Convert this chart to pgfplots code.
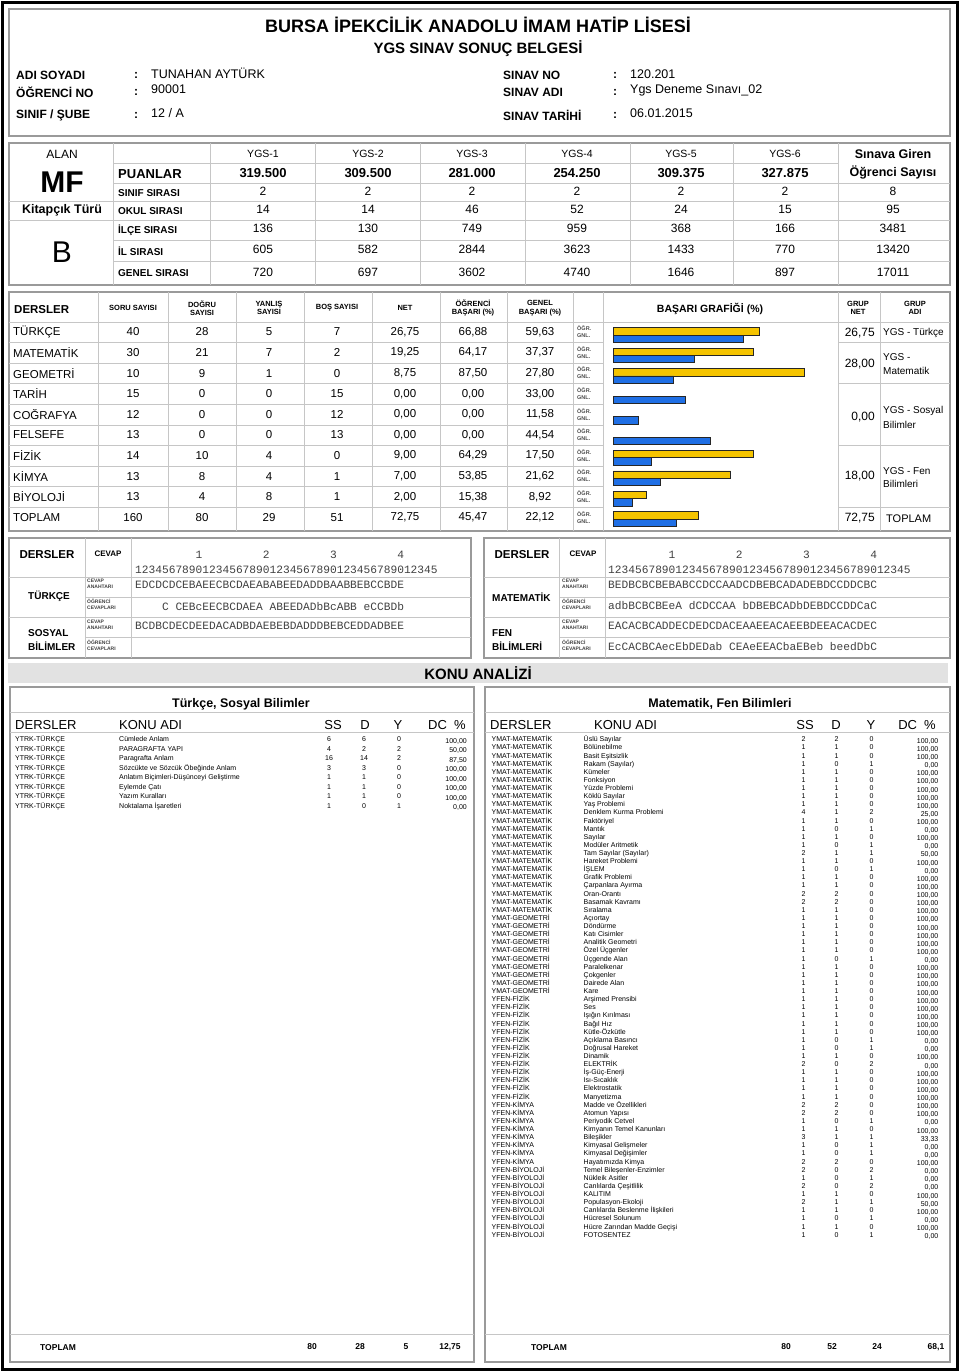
\documentclass[border=0pt]{standalone}
\usepackage{fontspec}
\setmainfont{Liberation Sans}
\newfontfamily\monofont{Liberation Mono}
\usepackage{pgfplots}
\pgfplotsset{compat=1.18}
\definecolor{ogrbar}{HTML}{F5C400}
\definecolor{gnlbar}{HTML}{1F6FE5}
\definecolor{frame}{HTML}{9A9A9A}
\definecolor{rule}{HTML}{C6C6C6}
\definecolor{band}{HTML}{E2E2E2}
\newcommand\fs[1]{\fontsize{#1}{#1}\selectfont}
% rows of the DERSLER table: index, name, soru, dogru, yanlis, bos, net, ogr, gnl
\newcommand\drow[9]{%
  \pgfmathsetmacro\yy{332+20.6*#1}%
  \pgfmathsetmacro\ya{\yy-3.8}\pgfmathsetmacro\yb{\yy+3.8}%
  \node[anchor=west,font=\fs{11.5}] at (13,\yy) {#2};
  \node[font=\fs{11.5}] at (133,\yy) {#3};
  \node[font=\fs{11.5}] at (202,\yy) {#4};
  \node[font=\fs{11.5}] at (269,\yy) {#5};
  \node[font=\fs{11.5}] at (337,\yy) {#6};
  \node[font=\fs{11.5}] at (405,\yy) {#7};
  \node[font=\fs{11.5}] at (473,\yy) {#8};
  \node[font=\fs{11.5}] at (540,\yy) {#9};
  \node[anchor=west,font=\bfseries\fs{5.5},text=black!70] at (577,\ya) {ÖĞR.};
  \node[anchor=west,font=\bfseries\fs{5.5},text=black!70] at (577,\yb) {GNL.};
}
% topic rows, left panel
\newcommand\lrow[6]{%
  \pgfmathsetmacro\yy{741.8+9.5*#1}\pgfmathsetmacro\yc{\yy+1.5}%
  \node[anchor=base west,font=\fs{7}] at (15,\yy) {YTRK-TÜRKÇE};
  \node[anchor=base west,font=\fs{7}] at (119,\yy) {#2};
  \node[anchor=base,font=\fs{7}] at (329,\yy) {#3};
  \node[anchor=base,font=\fs{7}] at (364,\yy) {#4};
  \node[anchor=base,font=\fs{7}] at (399,\yy) {#5};
  \node[anchor=base east,font=\fs{7}] at (467,\yc) {#6};
}
% topic rows, right panel
\newcommand\rrow[7]{%
  \pgfmathsetmacro\yy{741.8+8.12*#1}\pgfmathsetmacro\yc{\yy+1.5}%
  \node[anchor=base west,font=\fs{7}] at (491.5,\yy) {#2};
  \node[anchor=base west,font=\fs{7}] at (583.5,\yy) {#3};
  \node[anchor=base,font=\fs{7}] at (803.5,\yy) {#4};
  \node[anchor=base,font=\fs{7}] at (836.5,\yy) {#5};
  \node[anchor=base,font=\fs{7}] at (871.5,\yy) {#6};
  \node[anchor=base east,font=\fs{7}] at (938.5,\yc) {#7};
}
\begin{document}
\begin{tikzpicture}
\begin{scope}[x=1pt,y=-1pt,every node/.style={inner sep=0pt}]
\path (0,0) rectangle (960,1372);
\draw[line width=2.5pt] (2.5,2.5) rectangle (957.5,1369.5);

% ---- header
\draw[frame,line width=1.5pt] (9,9) rectangle (950,136);
\node[font=\bfseries\fs{18}] at (478,25) {BURSA İPEKCİLİK ANADOLU İMAM HATİP LİSESİ};
\node[font=\bfseries\fs{15}] at (478,49) {YGS SINAV SONUÇ BELGESİ};
\node[anchor=west,font=\bfseries\fs{12}] at (16,75) {ADI SOYADI};
\node[anchor=west,font=\bfseries\fs{12}] at (16,92) {ÖĞRENCİ NO};
\node[anchor=west,font=\bfseries\fs{12}] at (16,115) {SINIF / ŞUBE};
\node[anchor=west,font=\bfseries\fs{12}] at (503,75) {SINAV NO};
\node[anchor=west,font=\bfseries\fs{12}] at (503,92) {SINAV ADI};
\node[anchor=west,font=\bfseries\fs{12}] at (503,115) {SINAV TARİHİ};
\foreach \yl in {75,92,115}
  {\node[font=\bfseries\fs{12}] at (136,\yl) {:};
   \node[font=\bfseries\fs{12}] at (615,\yl) {:};}
\node[anchor=west,font=\fs{12.5}] at (151,73) {TUNAHAN AYTÜRK};
\node[anchor=west,font=\fs{12.5}] at (151,89) {90001};
\node[anchor=west,font=\fs{12.5}] at (151,113) {12 / A};
\node[anchor=west,font=\fs{12.5}] at (630,74) {120.201};
\node[anchor=west,font=\fs{12.5}] at (630,90) {Ygs Deneme Sınavı\_02};
\node[anchor=west,font=\fs{12.5}] at (630,113) {06.01.2015};

% ---- ALAN block
\draw[frame,line width=1.5pt] (9,143) rectangle (950,285);
\begin{scope}[rule,line width=0.8pt]
\foreach \xl in {113,210,315,420,525,630,733,838} \draw (\xl,143) -- (\xl,285);
\draw (113,163) -- (838,163);
\draw (113,183) -- (950,183);
\draw (9,201) -- (950,201);
\draw (9,220) -- (950,220);
\draw (113,240) -- (950,240);
\draw (113,261) -- (950,261);
\end{scope}
\node[font=\fs{12}] at (62,154) {ALAN};
\foreach \xc/\lab in {263/YGS-1,368/YGS-2,472/YGS-3,577/YGS-4,681/YGS-5,785/YGS-6}
  \node[font=\fs{10.5}] at (\xc,154) {\lab};
\node[font=\bfseries\fs{12.5}] at (893,154) {Sınava Giren};
\node[font=\bfseries\fs{12.5}] at (893,172) {Öğrenci Sayısı};
\node[font=\bfseries\fs{30}] at (62,182) {MF};
\node[font=\bfseries\fs{12.5}] at (62,210) {Kitapçık Türü};
\node[font=\fs{30}] at (62,252) {B};
\node[anchor=west,font=\bfseries\fs{13}] at (118,174) {PUANLAR};
\foreach \xc/\v in {263/319.500,368/309.500,472/281.000,577/254.250,681/309.375,785/327.875}
  \node[font=\bfseries\fs{13}] at (\xc,173) {\v};
\node[anchor=west,font=\bfseries\fs{10}] at (118,193) {SINIF SIRASI};
\node[anchor=west,font=\bfseries\fs{10}] at (118,211) {OKUL SIRASI};
\node[anchor=west,font=\bfseries\fs{10}] at (118,230) {İLÇE SIRASI};
\node[anchor=west,font=\bfseries\fs{10}] at (118,251) {İL SIRASI};
\node[anchor=west,font=\bfseries\fs{10}] at (118,273) {GENEL SIRASI};
\foreach \xc/\a/\b/\c/\d/\e in {263/2/14/136/605/720,368/2/14/130/582/697,472/2/46/749/2844/3602,
    577/2/52/959/3623/4740,681/2/24/368/1433/1646,785/2/15/166/770/897,893/8/95/3481/13420/17011}
  {\node[font=\fs{12}] at (\xc,191) {\a};
   \node[font=\fs{12}] at (\xc,209) {\b};
   \node[font=\fs{12}] at (\xc,228) {\c};
   \node[font=\fs{12}] at (\xc,249) {\d};
   \node[font=\fs{12}] at (\xc,272) {\e};}

% ---- DERSLER table
\draw[frame,line width=1.5pt] (9,292) rectangle (950,531);
\begin{scope}[rule,line width=0.8pt]
\foreach \xl in {98,168,236,304,372,440,507,573,603,838,880} \draw (\xl,292) -- (\xl,531);
\draw (9,322) -- (950,322);
\foreach \k in {1,...,9} \draw (9,322+20.6*\k) -- (603,322+20.6*\k);
\foreach \k in {1,3,6,9} \draw (838,322+20.6*\k) -- (950,322+20.6*\k);
\end{scope}
\node[anchor=west,font=\bfseries\fs{11.5}] at (14,310) {DERSLER};
\node[font=\bfseries\fs{7.5}] at (133,308) {SORU SAYISI};
\node[font=\bfseries\fs{7.5},align=center] at (202,308) {DOĞRU\\[1pt]SAYISI};
\node[font=\bfseries\fs{7.5},align=center] at (269,308) {YANLIŞ\\[1pt]SAYISI};
\node[font=\bfseries\fs{7.5}] at (337,308) {BOŞ SAYISI};
\node[font=\bfseries\fs{7.5}] at (405,308) {NET};
\node[font=\bfseries\fs{7.5},align=center] at (473,308) {ÖĞRENCİ\\[1pt]BAŞARI (\%)};
\node[font=\bfseries\fs{7.5},align=center] at (540,308) {GENEL\\[1pt]BAŞARI (\%)};
\node[font=\bfseries\fs{10.5}] at (710,309) {BAŞARI GRAFİĞİ (\%)};
\node[font=\bfseries\fs{7.5},align=center] at (858,308) {GRUP\\[1pt]NET};
\node[font=\bfseries\fs{7.5},align=center] at (915,308) {GRUP\\[1pt]ADI};
\drow{0}{TÜRKÇE}{40}{28}{5}{7}{26,75}{66,88}{59,63}
\drow{1}{MATEMATİK}{30}{21}{7}{2}{19,25}{64,17}{37,37}
\drow{2}{GEOMETRİ}{10}{9}{1}{0}{8,75}{87,50}{27,80}
\drow{3}{TARİH}{15}{0}{0}{15}{0,00}{0,00}{33,00}
\drow{4}{COĞRAFYA}{12}{0}{0}{12}{0,00}{0,00}{11,58}
\drow{5}{FELSEFE}{13}{0}{0}{13}{0,00}{0,00}{44,54}
\drow{6}{FİZİK}{14}{10}{4}{0}{9,00}{64,29}{17,50}
\drow{7}{KİMYA}{13}{8}{4}{1}{7,00}{53,85}{21,62}
\drow{8}{BİYOLOJİ}{13}{4}{8}{1}{2,00}{15,38}{8,92}
\drow{9}{TOPLAM}{160}{80}{29}{51}{72,75}{45,47}{22,12}
\node[anchor=east,font=\fs{12}] at (875,333) {26,75};
\node[anchor=east,font=\fs{12}] at (875,364) {28,00};
\node[anchor=east,font=\fs{12}] at (875,417) {0,00};
\node[anchor=east,font=\fs{12}] at (875,476) {18,00};
\node[anchor=east,font=\fs{12}] at (875,518) {72,75};
\node[anchor=west,font=\fs{10}] at (883,333) {YGS - Türkçe};
\node[anchor=west,font=\fs{10}] at (883,357.5) {YGS -};
\node[anchor=west,font=\fs{10}] at (883,371) {Matematik};
\node[anchor=west,font=\fs{10}] at (883,410.5) {YGS - Sosyal};
\node[anchor=west,font=\fs{10}] at (883,425) {Bilimler};
\node[anchor=west,font=\fs{10}] at (883,471) {YGS - Fen};
\node[anchor=west,font=\fs{10}] at (883,484) {Bilimleri};
\node[anchor=west,font=\fs{11}] at (886,518.5) {TOPLAM};

% ---- answer blocks
\draw[frame,line width=1.5pt] (9,538) rectangle (471,658);
\draw[frame,line width=1.5pt] (484,538) rectangle (950,658);
\begin{scope}[rule,line width=0.8pt]
\draw (85,538) -- (85,658) (131,538) -- (131,658);
\draw (9,577) -- (471,577) (85,597) -- (471,597) (9,617) -- (471,617) (85,637.5) -- (471,637.5);
\draw (559,538) -- (559,658) (605,538) -- (605,658);
\draw (484,577) -- (950,577) (559,597) -- (950,597) (484,617) -- (950,617) (559,637.5) -- (950,637.5);
\end{scope}
\foreach \xo/\xd/\xc in {0/47/108,475/522/583}{
  \node[font=\bfseries\fs{11.5}] at (\xd,554.5) {DERSLER};
  \node[font=\bfseries\fs{8}] at (\xc,554) {CEVAP};
  \node[anchor=west,font=\bfseries\fs{5},align=left,text=black!75] at (87+\xo,583.5) {CEVAP\\[0.6pt]ANAHTARI};
  \node[anchor=west,font=\bfseries\fs{5},align=left,text=black!75] at (87+\xo,604.5) {ÖĞRENCİ\\[0.6pt]CEVAPLARI};
  \node[anchor=west,font=\bfseries\fs{5},align=left,text=black!75] at (87+\xo,624.5) {CEVAP\\[0.6pt]ANAHTARI};
  \node[anchor=west,font=\bfseries\fs{5},align=left,text=black!75] at (87+\xo,645.5) {ÖĞRENCİ\\[0.6pt]CEVAPLARI};
}
\begin{scope}[every node/.append style={anchor=west,font=\monofont\fs{11.2},text=black!75}]
\node at (135,554.5) {~~~~~~~~~1~~~~~~~~~2~~~~~~~~~3~~~~~~~~~4};
\node at (135,569.5) {123456789012345678901234567890123456789012345};
\node at (135,585) {EDCDCDCEBAEECBCDAEABABEEDADDBAABBEBCCBDE};
\node at (135,606) {~~~~C~CEBcEECBCDAEA~ABEEDADbBcABB~eCCBDb};
\node at (135,626) {BCDBCDECDEEDACADBDAEBEBDADDDBEBCEDDADBEE};
\node at (608,554.5) {~~~~~~~~~1~~~~~~~~~2~~~~~~~~~3~~~~~~~~~4};
\node at (608,569.5) {123456789012345678901234567890123456789012345};
\node at (608,585) {BEDBCBCBEBABCCDCCAADCDBEBCADADEBDCCDDCBC};
\node at (608,606) {adbBCBCBEeA~dCDCCAA~bDBEBCADbDEBDCCDDCaC};
\node at (608,626) {EACACBCADDECDEDCDACEAAEEACAEEBDEEACACDEC};
\node at (608,647) {EcCACBCAecEbDEDab~CEAeEEACbaEBeb~beedDbC};
\end{scope}
\node[anchor=west,font=\bfseries\fs{10}] at (28,596) {TÜRKÇE};
\node[anchor=west,font=\bfseries\fs{10}] at (28,633) {SOSYAL};
\node[anchor=west,font=\bfseries\fs{10}] at (28,646) {BİLİMLER};
\node[anchor=west,font=\bfseries\fs{10}] at (492,597) {MATEMATİK};
\node[anchor=west,font=\bfseries\fs{10}] at (492,633) {FEN};
\node[anchor=west,font=\bfseries\fs{10}] at (492,646) {BİLİMLERİ};

% ---- KONU ANALIZI
\fill[band] (8,663) rectangle (948,683);
\node[font=\bfseries\fs{15}] at (478,673.5) {KONU ANALİZİ};
\draw[frame,line width=1.5pt] (10,687) rectangle (474,1362);
\draw[frame,line width=1.5pt] (485,687) rectangle (950,1362);
\begin{scope}[rule,line width=0.8pt]
\draw (10,712) -- (474,712) (10,732) -- (474,732) (10,1334) -- (474,1334);
\draw (485,712) -- (950,712) (485,732) -- (950,732) (485,1334) -- (950,1334);
\end{scope}
\node[font=\bfseries\fs{12.5}] at (241,704) {Türkçe, Sosyal Bilimler};
\node[font=\bfseries\fs{12.5}] at (720,704) {Matematik, Fen Bilimleri};
\foreach \xo in {0,475}{
  \node[anchor=west,font=\fs{13}] at (15+\xo,725) {DERSLER};
  \node[anchor=west,font=\fs{13}] at (119+\xo,725) {KONU ADI};
}
\node[font=\fs{13}] at (333,725) {SS};
\node[font=\fs{13}] at (365,725) {D};
\node[font=\fs{13}] at (398,725) {Y};
\node[anchor=east,font=\fs{13}] at (466,725) {DC~~\%};
\node[font=\fs{13}] at (805,725) {SS};
\node[font=\fs{13}] at (836,725) {D};
\node[font=\fs{13}] at (871,725) {Y};
\node[anchor=east,font=\fs{13}] at (936,725) {DC~~\%};

\lrow{0}{Cümlede Anlam}{6}{6}{0}{100,00}
\lrow{1}{PARAGRAFTA YAPI}{4}{2}{2}{50,00}
\lrow{2}{Paragrafta Anlam}{16}{14}{2}{87,50}
\lrow{3}{Sözcükte ve Sözcük Öbeğinde Anlam}{3}{3}{0}{100,00}
\lrow{4}{Anlatım Biçimleri-Düşünceyi Geliştirme}{1}{1}{0}{100,00}
\lrow{5}{Eylemde Çatı}{1}{1}{0}{100,00}
\lrow{6}{Yazım Kuralları}{1}{1}{0}{100,00}
\lrow{7}{Noktalama İşaretleri}{1}{0}{1}{0,00}

\rrow{0}{YMAT-MATEMATİK}{Üslü Sayılar}{2}{2}{0}{100,00}
\rrow{1}{YMAT-MATEMATİK}{Bölünebilme}{1}{1}{0}{100,00}
\rrow{2}{YMAT-MATEMATİK}{Basit Eşitsizlik}{1}{1}{0}{100,00}
\rrow{3}{YMAT-MATEMATİK}{Rakam (Sayılar)}{1}{0}{1}{0,00}
\rrow{4}{YMAT-MATEMATİK}{Kümeler}{1}{1}{0}{100,00}
\rrow{5}{YMAT-MATEMATİK}{Fonksiyon}{1}{1}{0}{100,00}
\rrow{6}{YMAT-MATEMATİK}{Yüzde Problemi}{1}{1}{0}{100,00}
\rrow{7}{YMAT-MATEMATİK}{Köklü Sayılar}{1}{1}{0}{100,00}
\rrow{8}{YMAT-MATEMATİK}{Yaş Problemi}{1}{1}{0}{100,00}
\rrow{9}{YMAT-MATEMATİK}{Denklem Kurma Problemi}{4}{1}{2}{25,00}
\rrow{10}{YMAT-MATEMATİK}{Faktöriyel}{1}{1}{0}{100,00}
\rrow{11}{YMAT-MATEMATİK}{Mantık}{1}{0}{1}{0,00}
\rrow{12}{YMAT-MATEMATİK}{Sayılar}{1}{1}{0}{100,00}
\rrow{13}{YMAT-MATEMATİK}{Modüler Aritmetik}{1}{0}{1}{0,00}
\rrow{14}{YMAT-MATEMATİK}{Tam Sayılar (Sayılar)}{2}{1}{1}{50,00}
\rrow{15}{YMAT-MATEMATİK}{Hareket Problemi}{1}{1}{0}{100,00}
\rrow{16}{YMAT-MATEMATİK}{İŞLEM}{1}{0}{1}{0,00}
\rrow{17}{YMAT-MATEMATİK}{Grafik Problemi}{1}{1}{0}{100,00}
\rrow{18}{YMAT-MATEMATİK}{Çarpanlara Ayırma}{1}{1}{0}{100,00}
\rrow{19}{YMAT-MATEMATİK}{Oran-Orantı}{2}{2}{0}{100,00}
\rrow{20}{YMAT-MATEMATİK}{Basamak Kavramı}{2}{2}{0}{100,00}
\rrow{21}{YMAT-MATEMATİK}{Sıralama}{1}{1}{0}{100,00}
\rrow{22}{YMAT-GEOMETRİ}{Açıortay}{1}{1}{0}{100,00}
\rrow{23}{YMAT-GEOMETRİ}{Döndürme}{1}{1}{0}{100,00}
\rrow{24}{YMAT-GEOMETRİ}{Katı Cisimler}{1}{1}{0}{100,00}
\rrow{25}{YMAT-GEOMETRİ}{Analitik Geometri}{1}{1}{0}{100,00}
\rrow{26}{YMAT-GEOMETRİ}{Özel Üçgenler}{1}{1}{0}{100,00}
\rrow{27}{YMAT-GEOMETRİ}{Üçgende Alan}{1}{0}{1}{0,00}
\rrow{28}{YMAT-GEOMETRİ}{Paralelkenar}{1}{1}{0}{100,00}
\rrow{29}{YMAT-GEOMETRİ}{Çokgenler}{1}{1}{0}{100,00}
\rrow{30}{YMAT-GEOMETRİ}{Dairede Alan}{1}{1}{0}{100,00}
\rrow{31}{YMAT-GEOMETRİ}{Kare}{1}{1}{0}{100,00}
\rrow{32}{YFEN-FİZİK}{Arşimed Prensibi}{1}{1}{0}{100,00}
\rrow{33}{YFEN-FİZİK}{Ses}{1}{1}{0}{100,00}
\rrow{34}{YFEN-FİZİK}{Işığın Kırılması}{1}{1}{0}{100,00}
\rrow{35}{YFEN-FİZİK}{Bağıl Hız}{1}{1}{0}{100,00}
\rrow{36}{YFEN-FİZİK}{Kütle-Özkütle}{1}{1}{0}{100,00}
\rrow{37}{YFEN-FİZİK}{Açıklama Basıncı}{1}{0}{1}{0,00}
\rrow{38}{YFEN-FİZİK}{Doğrusal Hareket}{1}{0}{1}{0,00}
\rrow{39}{YFEN-FİZİK}{Dinamik}{1}{1}{0}{100,00}
\rrow{40}{YFEN-FİZİK}{ELEKTRİK}{2}{0}{2}{0,00}
\rrow{41}{YFEN-FİZİK}{İş-Güç-Enerji}{1}{1}{0}{100,00}
\rrow{42}{YFEN-FİZİK}{Isı-Sıcaklık}{1}{1}{0}{100,00}
\rrow{43}{YFEN-FİZİK}{Elektrostatik}{1}{1}{0}{100,00}
\rrow{44}{YFEN-FİZİK}{Manyetizma}{1}{1}{0}{100,00}
\rrow{45}{YFEN-KİMYA}{Madde ve Özellikleri}{2}{2}{0}{100,00}
\rrow{46}{YFEN-KİMYA}{Atomun Yapısı}{2}{2}{0}{100,00}
\rrow{47}{YFEN-KİMYA}{Periyodik Cetvel}{1}{0}{1}{0,00}
\rrow{48}{YFEN-KİMYA}{Kimyanın Temel Kanunları}{1}{1}{0}{100,00}
\rrow{49}{YFEN-KİMYA}{Bileşikler}{3}{1}{1}{33,33}
\rrow{50}{YFEN-KİMYA}{Kimyasal Gelişmeler}{1}{0}{1}{0,00}
\rrow{51}{YFEN-KİMYA}{Kimyasal Değişimler}{1}{0}{1}{0,00}
\rrow{52}{YFEN-KİMYA}{Hayatımızda Kimya}{2}{2}{0}{100,00}
\rrow{53}{YFEN-BİYOLOJİ}{Temel Bileşenler-Enzimler}{2}{0}{2}{0,00}
\rrow{54}{YFEN-BİYOLOJİ}{Nükleik Asitler}{1}{0}{1}{0,00}
\rrow{55}{YFEN-BİYOLOJİ}{Canlılarda Çeşitlilik}{2}{0}{2}{0,00}
\rrow{56}{YFEN-BİYOLOJİ}{KALITIM}{1}{1}{0}{100,00}
\rrow{57}{YFEN-BİYOLOJİ}{Populasyon-Ekoloji}{2}{1}{1}{50,00}
\rrow{58}{YFEN-BİYOLOJİ}{Canlılarda Beslenme İlişkileri}{1}{1}{0}{100,00}
\rrow{59}{YFEN-BİYOLOJİ}{Hücresel Solunum}{1}{0}{1}{0,00}
\rrow{60}{YFEN-BİYOLOJİ}{Hücre Zarından Madde Geçişi}{1}{1}{0}{100,00}
\rrow{61}{YFEN-BİYOLOJİ}{FOTOSENTEZ}{1}{0}{1}{0,00}

% ---- totals
\begin{scope}[every node/.append style={font=\bfseries\fs{8.5}}]
\node[anchor=west] at (40,1348) {TOPLAM};
\node at (312,1347) {80};
\node at (360,1347) {28};
\node at (406,1347) {5};
\node at (450,1347) {12,75};
\node[anchor=west] at (531,1348) {TOPLAM};
\node at (786,1347) {80};
\node at (832,1347) {52};
\node at (877,1347) {24};
\node at (936,1347) {68,1};
\end{scope}
\end{scope}

% ---- BASARI GRAFIGI: rows from TURKCE (9) down to TOPLAM (0)
\begin{axis}[at={(613pt,-324.76pt)}, anchor=north west,
    scale only axis, width=219pt, height=204.8pt,
    xmin=0, xmax=100, ymin=-0.5, ymax=9.5,
    hide axis, clip=false,
    xbar, bar width=7.4pt]
% OGR. (student); zero rows (Tarih, Cografya, Felsefe) draw no bar
\addplot[fill=ogrbar, draw=black!85, line width=0.9pt, bar shift=3.7pt]
  coordinates {(66.88,9) (64.17,8) (87.50,7) (64.29,3) (53.85,2) (15.38,1) (39.01,0)};
% GNL. (general)
\addplot[fill=gnlbar, draw=black!85, line width=0.9pt, bar shift=-3.7pt]
  coordinates {(59.63,9) (37.37,8) (27.80,7) (33.00,6) (11.58,5) (44.54,4)
               (17.50,3) (21.62,2) (8.92,1) (29.11,0)};
\end{axis}
\end{tikzpicture}
\end{document}
